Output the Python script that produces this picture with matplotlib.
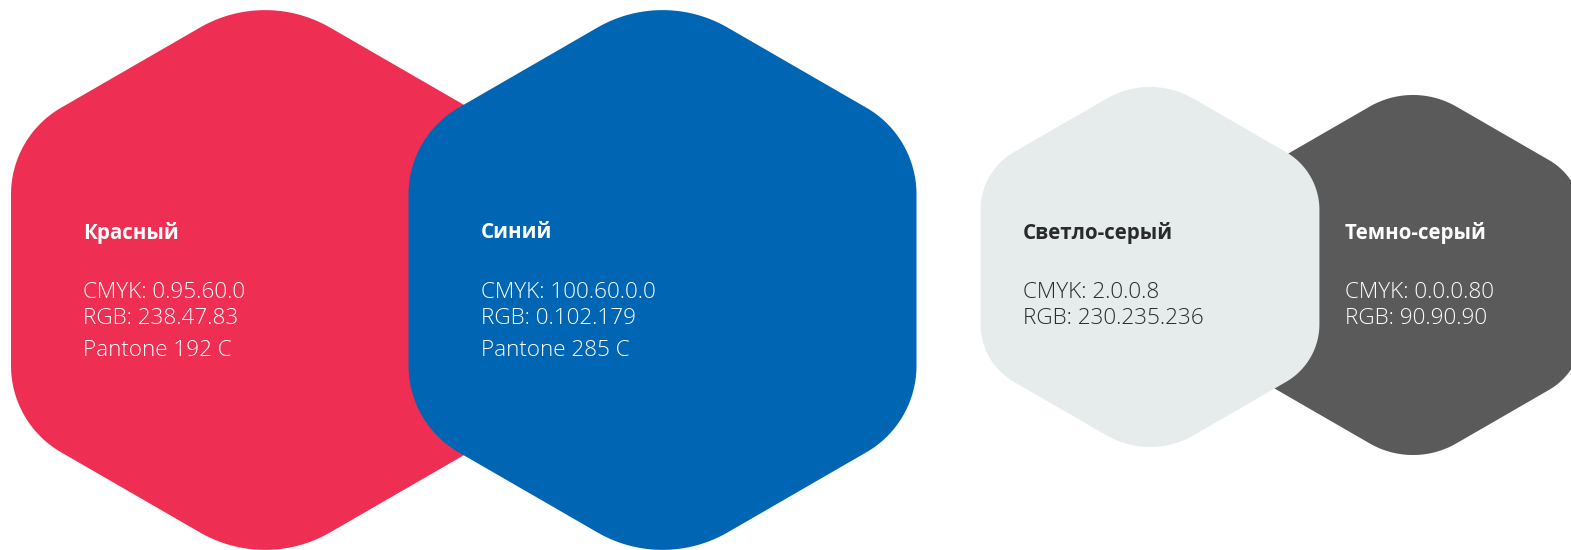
import numpy as np
import matplotlib
matplotlib.use("Agg")
import matplotlib.pyplot as plt
from matplotlib.patches import Polygon

# ---- data ----
names = ["Красный", "Синий", "Светло-серый", "Темно-серый"]
cmyk = ["0.95.60.0", "100.60.0.0", "2.0.0.8", "0.0.0.80"]
rgb = [(238, 47, 83), (0, 102, 179), (230, 235, 236), (90, 90, 90)]
pantone = ["Pantone 192 C", "Pantone 285 C", None, None]
text_colors = ["#ffffff", "#ffffff", "#2a2a2a", "#ffffff"]

# ---- layout (pixels) ----
W, H = 1571, 550
centers = [(265, 280), (662.5, 280), (1150, 267), (1413, 275)]
scales = [1.0, 1.0, 0.667, 0.667]
zorders = [1, 2, 4, 3]
text_x = [83, 481, 1023, 1345]

# base shape (scale 1)
R0, A0 = 290.0, 254.0      # half height to top vertex, half width to side vertex
RT0, RS0 = 130.0, 100.0    # corner radii: top/bottom, sides


def rounded_hex(cx, cy, s, n=40):
    R, A = R0 * s, A0 * s
    b = R - A * np.tan(np.deg2rad(30))
    V = np.array([(cx, cy - R), (cx + A, cy - b), (cx + A, cy + b),
                  (cx, cy + R), (cx - A, cy + b), (cx - A, cy - b)])
    rad = [RT0 * s, RS0 * s, RS0 * s, RT0 * s, RS0 * s, RS0 * s]
    pts = []
    for i in range(6):
        P, C0, N = V[i - 1], V[i], V[(i + 1) % 6]
        u1 = (P - C0) / np.linalg.norm(P - C0)
        u2 = (N - C0) / np.linalg.norm(N - C0)
        th = np.arccos(np.clip(np.dot(u1, u2), -1, 1))
        r = rad[i]
        t = r / np.tan(th / 2)
        T1, T2 = C0 + u1 * t, C0 + u2 * t
        bis = (u1 + u2) / np.linalg.norm(u1 + u2)
        Cc = C0 + bis * r / np.sin(th / 2)
        a1 = np.arctan2(*(T1 - Cc)[::-1])
        a2 = np.arctan2(*(T2 - Cc)[::-1])
        d = (a2 - a1 + np.pi) % (2 * np.pi) - np.pi
        ang = a1 + np.linspace(0, d, n)
        pts.extend(np.c_[Cc[0] + r * np.cos(ang), Cc[1] + r * np.sin(ang)])
    return np.array(pts)


fig = plt.figure(figsize=(W / 100, H / 100), dpi=100)
ax = fig.add_axes([0, 0, 1, 1])
ax.set_xlim(0, W)
ax.set_ylim(H, 0)
ax.axis("off")

FAM = ["Open Sans", "DejaVu Sans"]
for i in range(4):
    cx, cy = centers[i]
    col = tuple(c / 255 for c in rgb[i])
    pts = rounded_hex(cx, cy, scales[i])
    ax.add_patch(Polygon(pts, closed=True, facecolor=col, edgecolor="none",
                         zorder=zorders[i]))
    tc = text_colors[i]
    z = zorders[i] + 0.5
    ax.text(text_x[i], 233, names[i], color=tc, fontsize=14.8, fontweight="bold",
            family=FAM, va="center", ha="left", zorder=z)
    lines = ["CMYK: " + cmyk[i], "RGB: " + ".".join(str(v) for v in rgb[i])]
    ys = [292, 318]
    if pantone[i]:
        lines.append(pantone[i])
        ys.append(350)
    for txt, y in zip(lines, ys):
        ax.text(text_x[i], y, txt, color=tc, fontsize=16.2, fontweight="light",
                family=FAM, va="center", ha="left", zorder=z)

fig.savefig("out.png", dpi=100, facecolor="white")
